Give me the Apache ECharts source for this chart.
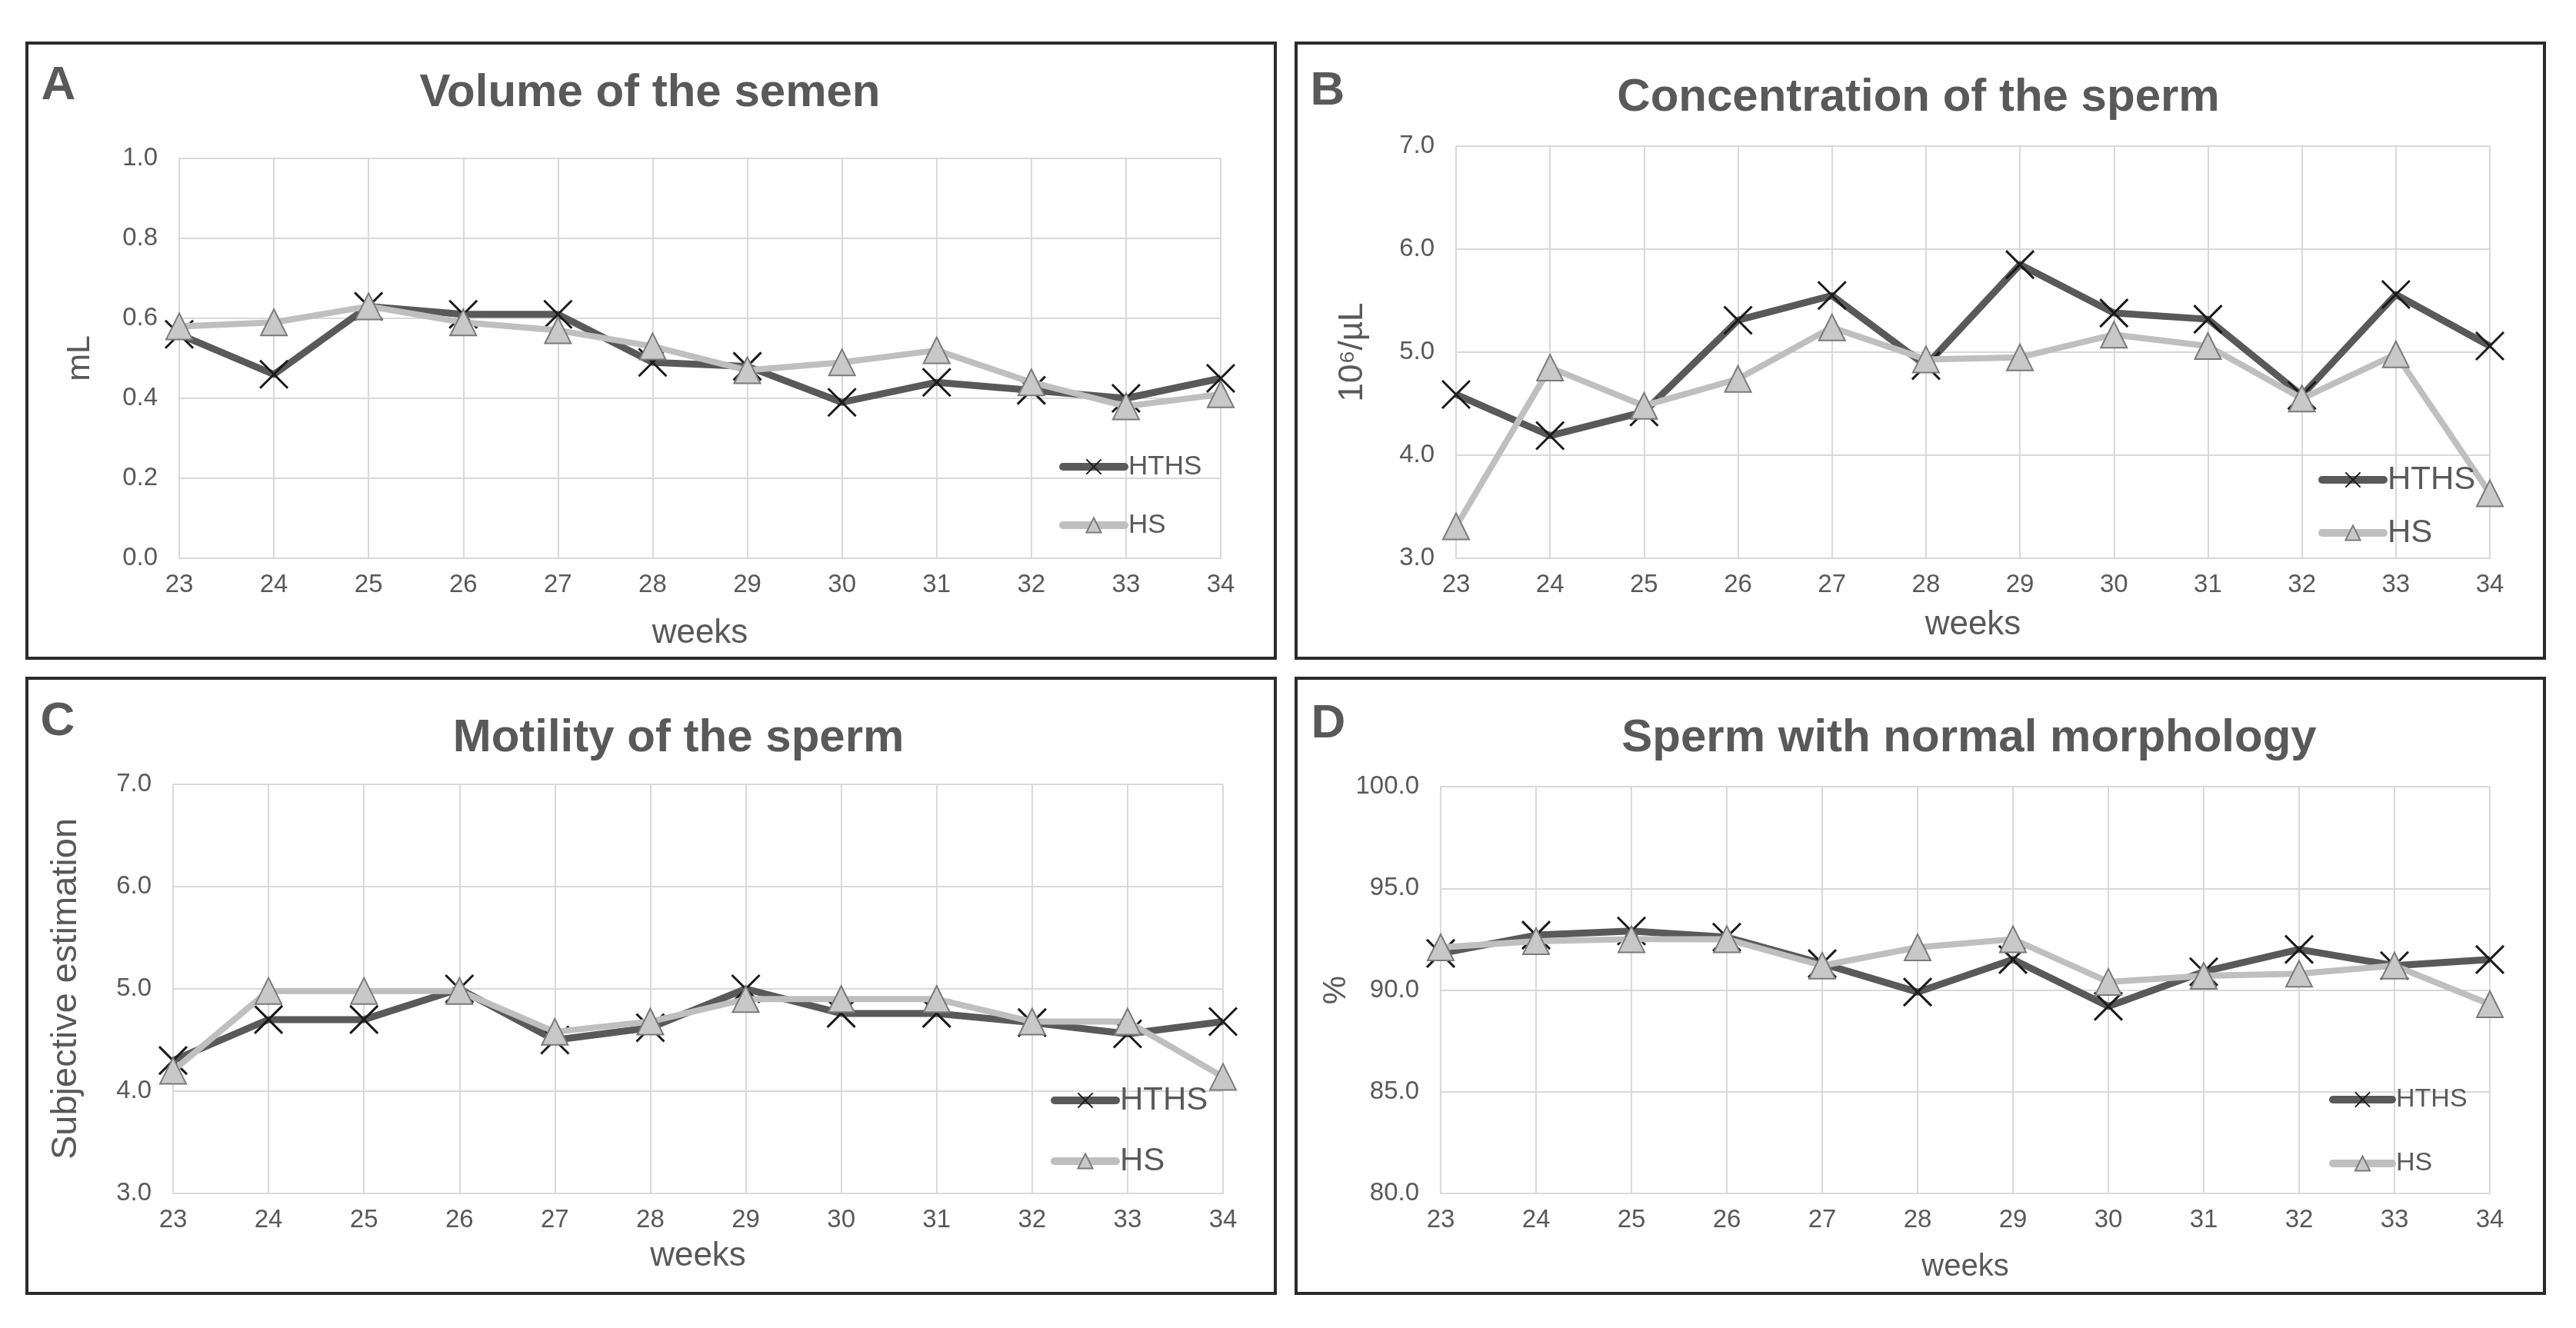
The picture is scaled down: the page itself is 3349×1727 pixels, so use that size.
<!DOCTYPE html>
<html>
<head>
<meta charset="utf-8">
<script src="https://cdn.jsdelivr.net/npm/echarts@6/dist/echarts.min.js"></script>
<style>
  html, body { margin: 0; padding: 0; background: #fff; }
  #chart { width: 3349px; height: 1727px; }
</style>
</head>
<body>
<div id="chart"></div>
<script>
// semanas do experimento
const weeks = ['23', '24', '25', '26', '27', '28', '29', '30', '31', '32', '33', '34'];

// A - volume (mL)
const volumeHTHS = [0.56, 0.46, 0.63, 0.61, 0.61, 0.49, 0.48, 0.39, 0.44, 0.42, 0.40, 0.45];
const volumeHS = [0.58, 0.59, 0.63, 0.59, 0.57, 0.53, 0.47, 0.49, 0.52, 0.44, 0.38, 0.41];

// B - concentracao (10^6/uL)
const concHTHS = [4.59, 4.19, 4.42, 5.31, 5.55, 4.87, 5.85, 5.38, 5.32, 4.58, 5.56, 5.06];
const concHS = [3.31, 4.85, 4.48, 4.74, 5.24, 4.93, 4.95, 5.17, 5.06, 4.55, 4.98, 3.63];

// C - motilidade (estimativa subjetiva)
const motHTHS = [4.30, 4.70, 4.70, 5.00, 4.50, 4.62, 5.00, 4.76, 4.76, 4.67, 4.56, 4.68];
const motHS = [4.20, 4.98, 4.98, 4.98, 4.58, 4.68, 4.90, 4.90, 4.90, 4.68, 4.68, 4.14];

// D - morfologia normal (%)
const morphHTHS = [91.8, 92.7, 92.9, 92.6, 91.3, 89.9, 91.5, 89.2, 90.9, 92.0, 91.2, 91.5];
const morphHS = [92.1, 92.4, 92.5, 92.5, 91.2, 92.1, 92.5, 90.4, 90.7, 90.8, 91.2, 89.3];

const FONT = '"Liberation Sans", Arial, Helvetica, sans-serif';
const TXT = '#595959';
const GRID_LINE = '#d9d9d9';
const X_MARK = 'path://M0,0L40,40M40,0L0,40';

const paineis = [
  {
    letra: 'A', titulo: 'Volume of the semen', yNome: 'mL',
    hths: volumeHTHS, hs: volumeHS, min: 0, max: 1, intervalo: 0.2,
    box: [35, 56, 1623, 800], grid: [233, 206, 1354, 520],
    letraPos: [76, 112], tituloPos: [845, 121],
    yNomeGap: 107, yNomeSize: 43, xNomeGap: 76, xNomeSize: 44,
    legenda: { left: 1377, top: 589, size: 35, lh: 36, gap: 40, w: 80 }
  },
  {
    letra: 'B', titulo: 'Concentration of the sperm', yNome: '10\u2076/\u00b5L',
    hths: concHTHS, hs: concHS, min: 3, max: 7, intervalo: 1,
    box: [1685, 56, 1623, 800], grid: [1893, 190, 1344, 536],
    letraPos: [1726, 119], tituloPos: [2494, 127],
    yNomeGap: 112, yNomeSize: 44, xNomeGap: 65, xNomeSize: 44,
    legenda: { left: 3014, top: 603, size: 42, lh: 42, gap: 27, w: 80 }
  },
  {
    letra: 'C', titulo: 'Motility of the sperm', yNome: 'Subjective estimation',
    hths: motHTHS, hs: motHS, min: 3, max: 7, intervalo: 1,
    box: [35, 882, 1623, 800], grid: [225, 1020, 1365, 532],
    letraPos: [75, 939], tituloPos: [882, 960],
    yNomeGap: 115, yNomeSize: 47, xNomeGap: 60, xNomeSize: 44,
    legenda: { left: 1366, top: 1410, size: 42, lh: 42, gap: 37, w: 80 }
  },
  {
    letra: 'D', titulo: 'Sperm with normal morphology', yNome: '%',
    hths: morphHTHS, hs: morphHS, min: 80, max: 100, intervalo: 5,
    box: [1685, 882, 1623, 800], grid: [1873, 1023, 1364, 529],
    letraPos: [1727, 942], tituloPos: [2560, 960],
    yNomeGap: 108, yNomeSize: 42, xNomeGap: 76, xNomeSize: 40,
    legenda: { left: 3028, top: 1412, size: 34, lh: 36, gap: 47, w: 77 }
  }
];

const option = {
  backgroundColor: '#fff',
  animation: false,
  textStyle: { fontFamily: FONT },
  title: [], grid: [], xAxis: [], yAxis: [], series: [], legend: [],
  graphic: []
};

paineis.forEach((p, i) => {
  // moldura do painel
  option.graphic.push({
    type: 'rect', silent: true,
    shape: { x: p.box[0], y: p.box[1], width: p.box[2], height: p.box[3] },
    style: { fill: 'none', stroke: '#2b2b2b', lineWidth: 4 }
  });

  option.title.push({
    text: p.letra, left: p.letraPos[0], top: p.letraPos[1], padding: 0,
    textAlign: 'center', textVerticalAlign: 'middle',
    textStyle: { fontFamily: FONT, fontSize: 62, fontWeight: 'bold', color: TXT }
  });
  option.title.push({
    text: p.titulo, left: p.tituloPos[0], top: p.tituloPos[1], padding: 0,
    textAlign: 'center', textVerticalAlign: 'middle',
    textStyle: { fontFamily: FONT, fontSize: 60, fontWeight: 'bold', color: TXT }
  });

  option.grid.push({
    left: p.grid[0], top: p.grid[1], width: p.grid[2], height: p.grid[3],
    containLabel: false
  });

  option.xAxis.push({
    type: 'category', gridIndex: i, data: weeks, boundaryGap: false,
    name: 'weeks', nameLocation: 'middle', nameGap: p.xNomeGap,
    nameTextStyle: { fontFamily: FONT, fontSize: p.xNomeSize, color: TXT },
    axisLine: { show: true, lineStyle: { color: GRID_LINE, width: 2 } },
    axisTick: { show: false },
    axisLabel: { fontFamily: FONT, fontSize: 33, color: TXT, margin: 18 },
    splitLine: { show: true, lineStyle: { color: GRID_LINE, width: 2 } }
  });

  option.yAxis.push({
    type: 'value', gridIndex: i, min: p.min, max: p.max, interval: p.intervalo,
    name: p.yNome, nameLocation: 'middle', nameGap: p.yNomeGap,
    nameTextStyle: { fontFamily: FONT, fontSize: p.yNomeSize, color: TXT },
    axisLine: { show: false },
    axisTick: { show: false },
    axisLabel: {
      fontFamily: FONT, fontSize: 33, color: TXT, margin: 28,
      formatter: v => v.toFixed(1)
    },
    splitLine: { show: true, lineStyle: { color: GRID_LINE, width: 2 } }
  });

  option.series.push({
    name: 'HTHS', type: 'line', xAxisIndex: i, yAxisIndex: i, z: 2,
    data: p.hths,
    symbol: X_MARK, symbolSize: 36,
    lineStyle: { color: '#595959', width: 9, join: 'round' },
    itemStyle: { color: 'none', borderColor: '#1a1a1a', borderWidth: 3 }
  });
  option.series.push({
    name: 'HS', type: 'line', xAxisIndex: i, yAxisIndex: i, z: 3,
    data: p.hs,
    symbol: 'triangle', symbolSize: 34,
    lineStyle: { color: '#bfbfbf', width: 8, join: 'round' },
    itemStyle: { color: '#c8c8c8', borderColor: '#7a7a7a', borderWidth: 2 }
  });

  const lg = p.legenda;
  option.legend.push({
    data: ['HTHS', 'HS'], orient: 'vertical', selectedMode: false,
    left: lg.left, top: lg.top, padding: 0, itemGap: lg.gap,
    itemWidth: lg.w, itemHeight: 24,
    lineStyle: { width: 10, cap: 'round' },
    textStyle: { fontFamily: FONT, fontSize: lg.size, lineHeight: lg.lh, color: TXT }
  });
});

const chart = echarts.init(document.getElementById('chart'));
chart.setOption(option);
</script>
</body>
</html>
